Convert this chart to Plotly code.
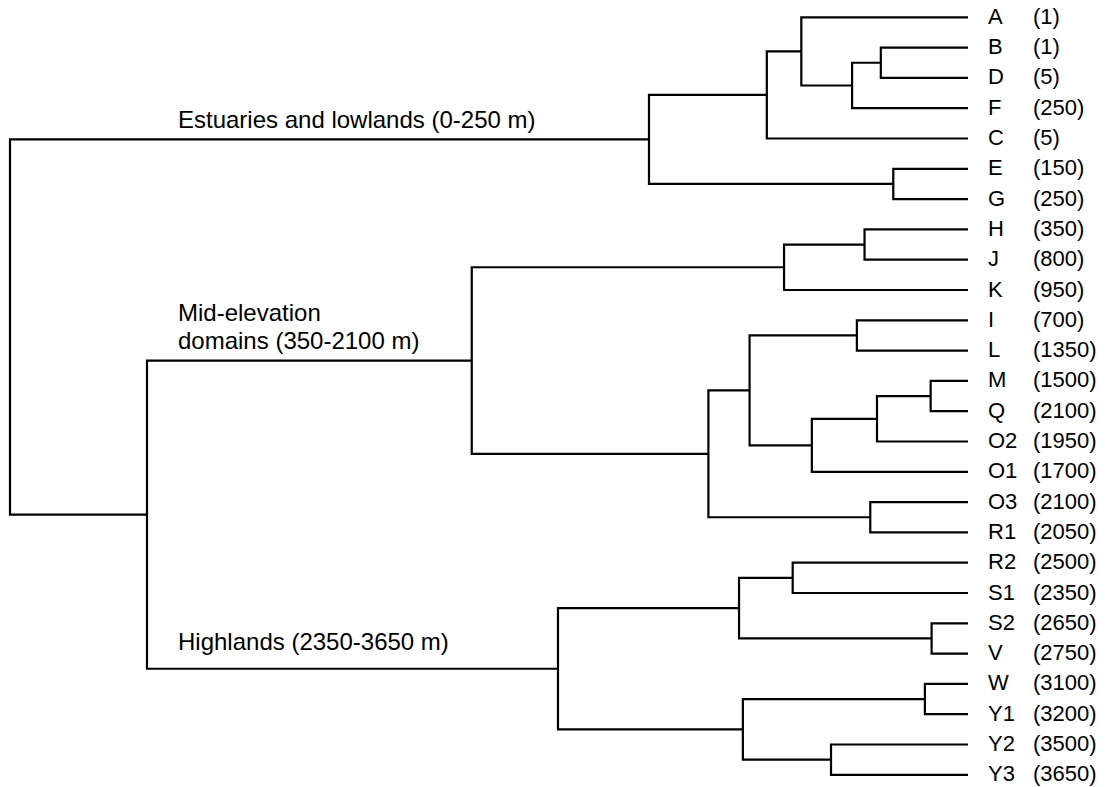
import plotly.graph_objects as go

# ---- data -------------------------------------------------------------
leaf_names = ["A", "B", "D", "F", "C", "E", "G", "H", "J", "K", "I", "L", "M",
              "Q", "O2", "O1", "O3", "R1", "R2", "S1", "S2", "V", "W", "Y1",
              "Y2", "Y3"]
leaf_elev = ["(1)", "(1)", "(5)", "(250)", "(5)", "(150)", "(250)", "(350)",
             "(800)", "(950)", "(700)", "(1350)", "(1500)", "(2100)", "(1950)",
             "(1700)", "(2100)", "(2050)", "(2500)", "(2350)", "(2650)",
             "(2750)", "(3100)", "(3200)", "(3500)", "(3650)"]

# merges: children are leaf names or "#k" (k-th merge); height = linkage distance
merge_left = ["B", "#0", "A", "#2", "E", "#3", "H", "#6", "I", "M", "#9", "#10",
              "#8", "O3", "#12", "#7", "R2", "S2", "#16", "W", "Y2", "#19",
              "#18", "#15", "#5"]
merge_right = ["D", "F", "#1", "C", "G", "#4", "J", "K", "L", "Q", "O2", "O1",
               "#11", "R1", "#13", "#14", "S1", "V", "#17", "Y1", "Y3", "#20",
               "#21", "#22", "#23"]
merge_height = [9.1, 12.1, 17.4, 21.0, 7.8, 33.3, 10.8, 19.2, 11.6, 3.9, 9.5,
                16.3, 22.8, 10.2, 27.1, 51.8, 18.3, 3.8, 23.9, 4.5, 14.3, 23.5,
                42.8, 85.7, 100.0]

group_merge = [5, 15, 22]
group_lines = [["Estuaries and lowlands (0-250 m)"],
               ["Mid-elevation", "domains (350-2100 m)"],
               ["Highlands (2350-3650 m)"]]

# ---- geometry helpers ---------------------------------------------------
W, H = 1106, 787
X_LEAF_PX, X_ROOT_PX = 968, 10          # pixel of height 0 and height 100
Y_FIRST_PX, Y_STEP_PX = 17.3, 30.3       # pixel of first leaf, leaf spacing
ppu = (X_LEAF_PX - X_ROOT_PX) / 100.0
x_range = [X_LEAF_PX / ppu, (X_LEAF_PX - W) / ppu]
y_range = [(H - Y_FIRST_PX) / Y_STEP_PX, -Y_FIRST_PX / Y_STEP_PX]


def px_to_h(px):
    return (X_LEAF_PX - px) / ppu


leaf_index = {n: i for i, n in enumerate(leaf_names)}
node_pos = {}  # id -> (height, y)
for n, i in leaf_index.items():
    node_pos[n] = (0.0, float(i))

xs, ys = [], []
for k, (l, r, h) in enumerate(zip(merge_left, merge_right, merge_height)):
    hl, yl = node_pos[l]
    hr, yr = node_pos[r]
    xs += [hl, h, h, hr, None]
    ys += [yl, yl, yr, yr, None]
    node_pos["#%d" % k] = (h, (yl + yr) / 2.0)

fig = go.Figure()
fig.add_trace(go.Scatter(x=xs, y=ys, mode="lines",
                         line=dict(color="black", width=2.2, shape="linear"),
                         hoverinfo="skip", showlegend=False))

FONT = "Liberation Sans, Arial, Helvetica, sans-serif"
ann = []
for n, e in zip(leaf_names, leaf_elev):
    y = float(leaf_index[n])
    ann.append(dict(x=px_to_h(987), y=y, text=n, showarrow=False,
                    xanchor="left", yanchor="middle", yshift=1, borderpad=0,
                    font=dict(family=FONT, size=22, color="black")))
    ann.append(dict(x=px_to_h(1032), y=y, text=e, showarrow=False,
                    xanchor="left", yanchor="middle", yshift=1, borderpad=0,
                    font=dict(family=FONT, size=22, color="black")))

# vertical offset (px, upward) of the last text line above its branch
label_lift = [20, 20, 27]
LINE_GAP = 28
for k, lines, lift in zip(group_merge, group_lines, label_lift):
    h, y = node_pos["#%d" % k]
    for j, t in enumerate(reversed(lines)):
        ann.append(dict(x=px_to_h(176), y=y, text=t, showarrow=False,
                        xanchor="left", yanchor="middle",
                        yshift=lift + j * LINE_GAP, align="left",
                        font=dict(family=FONT, size=24, color="black")))

fig.update_layout(
    width=W, height=H,
    margin=dict(l=0, r=0, t=0, b=0),
    paper_bgcolor="white", plot_bgcolor="white",
    xaxis=dict(range=x_range, visible=False, showgrid=False, zeroline=False),
    yaxis=dict(range=y_range, visible=False, showgrid=False, zeroline=False),
    annotations=ann,
)

fig.write_html("out.html")
